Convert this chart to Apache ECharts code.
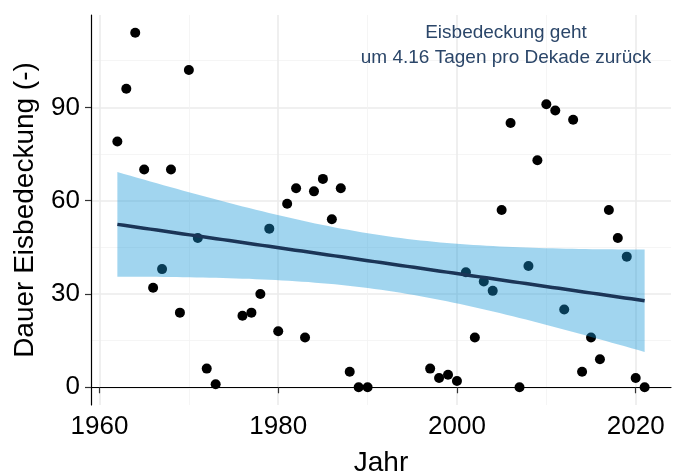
<!DOCTYPE html>
<html>
<head>
<meta charset="utf-8">
<script src="https://cdn.jsdelivr.net/npm/echarts@6/dist/echarts.min.js"></script>
<style>
  html, body { margin: 0; padding: 0; background: #fff; }
  #chart { width: 680px; height: 474px; }
</style>
</head>
<body>
<div id="chart"></div>
<script>
// Eisbedeckung pro Jahr (Tage)
const years = [1962, 1963, 1964, 1965, 1966, 1967, 1968, 1969, 1970, 1971, 1972, 1973,
  1976, 1977, 1978, 1979, 1980, 1981, 1982, 1983, 1984, 1985, 1986, 1987, 1988, 1989, 1990,
  1997, 1998, 1999, 2000, 2001, 2002, 2003, 2004, 2005, 2006, 2007, 2008, 2009, 2010, 2011,
  2012, 2013, 2014, 2015, 2016, 2017, 2018, 2019, 2020, 2021];
const days = [79, 96, 114, 70, 32, 38, 70, 24, 102, 48, 6, 1,
  23, 24, 30, 51, 18, 59, 64, 16, 63, 67, 54, 64, 5, 0, 0,
  6, 3, 4, 2, 37, 16, 34, 31, 57, 85, 0, 39, 73, 91, 89,
  25, 86, 5, 16, 9, 57, 48, 42, 3, 0];

const xMajor = [1960, 1980, 2000, 2020];
const xMinor = [1970, 1990, 2010];
const yMajor = [0, 30, 60, 90];
const yMinor = [15, 45, 75, 105];
const annotation = ['Eisbedeckung geht', 'um 4.16 Tagen pro Dekade zurück'];

// lineare Regression + 95%-Konfidenzband (wie geom_smooth(method = "lm"))
const n = years.length;
const mx = years.reduce((a, b) => a + b, 0) / n;
const my = days.reduce((a, b) => a + b, 0) / n;
let sxx = 0, sxy = 0;
years.forEach((x, i) => { sxx += (x - mx) ** 2; sxy += (x - mx) * (days[i] - my); });
const slope = sxy / sxx;
const icpt = my - slope * mx;
let sse = 0;
years.forEach((x, i) => { sse += (days[i] - (icpt + slope * x)) ** 2; });
const s = Math.sqrt(sse / (n - 2));
const tCrit = 2.0086; // qt(0.975, 50)

const xFirst = years[0], xLast = years[n - 1];
const fitLine = [];
const band = [];
for (let k = 0; k <= 80; k++) {
  const x = xFirst + (xLast - xFirst) * k / 80;
  const yhat = icpt + slope * x;
  const se = s * Math.sqrt(1 / n + (x - mx) ** 2 / sxx);
  fitLine.push([x, yhat]);
  band.push([x, yhat - tCrit * se, yhat + tCrit * se]);
}

// ggplot-artige Achsenerweiterung (5 %)
const xPad = (xLast - xFirst) * 0.05;
const yLo = Math.min(...days), yHi = Math.max(...days);
const yPad = (yHi - yLo) * 0.05;

const font = '"Liberation Sans", Arial, sans-serif';

const chart = echarts.init(document.getElementById('chart'));
chart.setOption({
  animation: false,
  backgroundColor: '#fff',
  grid: {
    left: 91, right: 9, top: 15, bottom: 69,
    containLabel: false,
    outerBoundsMode: 'none'
  },
  xAxis: [
    {
      type: 'value',
      min: xFirst - xPad,
      max: xLast + xPad,
      name: 'Jahr',
      nameLocation: 'middle',
      nameGap: 44,
      nameTextStyle: { fontFamily: font, fontSize: 28, color: '#000' },
      axisLine: { show: true, lineStyle: { color: '#000', width: 1.2 } },
      axisTick: { show: true, length: 6, customValues: xMajor, lineStyle: { color: '#333', width: 1.2 } },
      axisLabel: {
        customValues: xMajor, margin: 9,
        fontFamily: font, fontSize: 26, color: '#000',
        formatter: v => String(Math.round(v))
      },
      splitLine: { show: true, lineStyle: { color: '#ebebeb', width: 1.6 } }
    },
    {
      type: 'value',
      position: 'bottom',
      min: xFirst - xPad,
      max: xLast + xPad,
      axisLine: { show: false },
      axisTick: { show: false, customValues: xMinor },
      axisLabel: { show: false, customValues: xMinor },
      splitLine: { show: true, lineStyle: { color: '#f2f2f2', width: 0.8 } }
    }
  ],
  yAxis: [
    {
      type: 'value',
      min: yLo - yPad,
      max: yHi + yPad,
      name: 'Dauer Eisbedeckung (-)',
      nameLocation: 'middle',
      nameGap: 52,
      nameTextStyle: { fontFamily: font, fontSize: 28, color: '#000' },
      axisLine: { show: true, lineStyle: { color: '#000', width: 1.2 } },
      axisTick: { show: true, length: 6, customValues: yMajor, lineStyle: { color: '#333', width: 1.2 } },
      axisLabel: {
        customValues: yMajor, margin: 11,
        fontFamily: font, fontSize: 26, color: '#000',
        formatter: v => String(Math.round(v))
      },
      splitLine: { show: true, lineStyle: { color: '#ebebeb', width: 1.6 } }
    },
    {
      type: 'value',
      position: 'left',
      min: yLo - yPad,
      max: yHi + yPad,
      axisLine: { show: false },
      axisTick: { show: false, customValues: yMinor },
      axisLabel: { show: false, customValues: yMinor },
      splitLine: { show: true, lineStyle: { color: '#f2f2f2', width: 0.8 } }
    }
  ],
  graphic: annotation.map((t, i) => ({
    type: 'text',
    x: 506,
    y: 33 + i * 25,
    z: 100,
    style: {
      text: t,
      font: '19px ' + font,
      fill: '#2b4669',
      textAlign: 'center',
      textVerticalAlign: 'middle'
    }
  })),
  series: [
    {
      type: 'scatter',
      data: years.map((x, i) => [x, days[i]]),
      symbolSize: 10,
      itemStyle: { color: '#000', opacity: 1 },
      z: 2
    },
    {
      type: 'custom',
      data: band,
      encode: { x: 0, y: [1, 2] },
      silent: true,
      z: 3,
      renderItem: function (params, api) {
        if (params.dataIndex !== 0) return;
        const pts = band.map(b => api.coord([b[0], b[2]]));
        for (let i = band.length - 1; i >= 0; i--) pts.push(api.coord([band[i][0], band[i][1]]));
        return {
          type: 'polygon',
          shape: { points: pts },
          style: { fill: 'rgba(20,150,215,0.4)' }
        };
      }
    },
    {
      type: 'line',
      data: fitLine,
      showSymbol: false,
      silent: true,
      lineStyle: { color: '#1b3557', width: 3.5 },
      z: 4
    }
  ]
});
</script>
</body>
</html>
